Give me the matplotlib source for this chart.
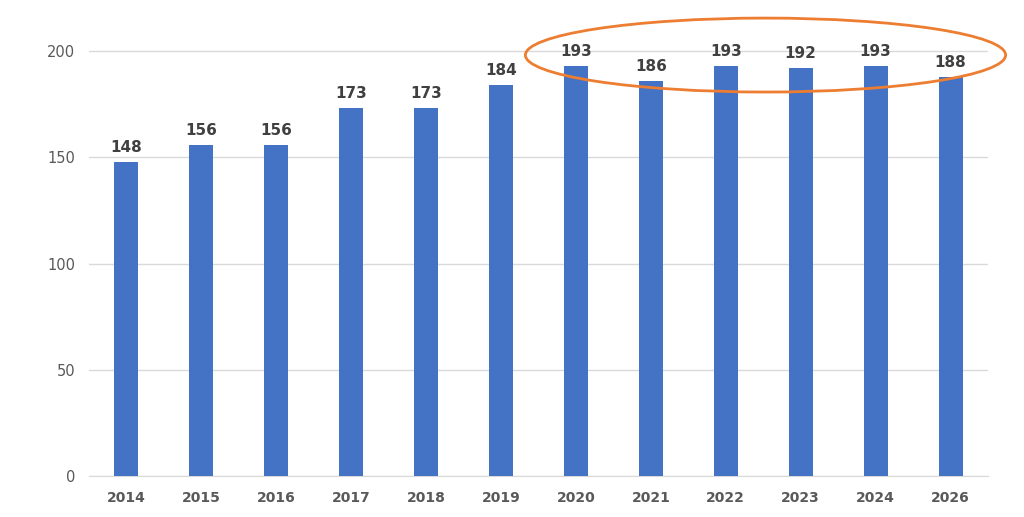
import matplotlib.pyplot as plt
from matplotlib.patches import Ellipse

years = ['2014', '2015', '2016', '2017', '2018', '2019', '2020', '2021', '2022', '2023', '2024', '2026']
values = [148, 156, 156, 173, 173, 184, 193, 186, 193, 192, 193, 188]

fig = plt.figure(figsize=(10.24, 5.17), dpi=100)
ax = fig.add_axes([89 / 1024, 1 - 476 / 517, 899 / 1024, 456 / 517])

x = range(len(years))
bars = ax.bar(x, values, width=0.32, color='#4472C4', zorder=3)

for b, v in zip(bars, values):
    ax.annotate(str(v), (b.get_x() + b.get_width() / 2, v), xytext=(0, 5),
                textcoords='offset points', ha='center', va='bottom',
                fontsize=11, fontweight='bold', color='#404040')

ax.set_xlim(-0.5, len(years) - 0.5)
ax.set_ylim(0, 214.6)
ax.set_yticks([0, 50, 100, 150, 200])
ax.set_xticks(list(x))
ax.set_xticklabels(years, fontsize=10, fontweight='bold', color='#595959')
ax.tick_params(axis='y', labelsize=10.5, labelcolor='#595959', length=0, pad=10)
ax.tick_params(axis='x', length=0, pad=11)
ax.grid(axis='y', color='#D9D9D9', linewidth=1, zorder=0)
for s in ['top', 'right', 'left']:
    ax.spines[s].set_visible(False)
ax.spines['bottom'].set_color('#D9D9D9')

# orange ring around the later years
ring = Ellipse((8.53, 198.1), 6.41, 34.8, fill=False, edgecolor='#ED7D31',
               linewidth=2, clip_on=False, zorder=5)
ax.add_patch(ring)

fig.savefig('out.png', dpi=100)
